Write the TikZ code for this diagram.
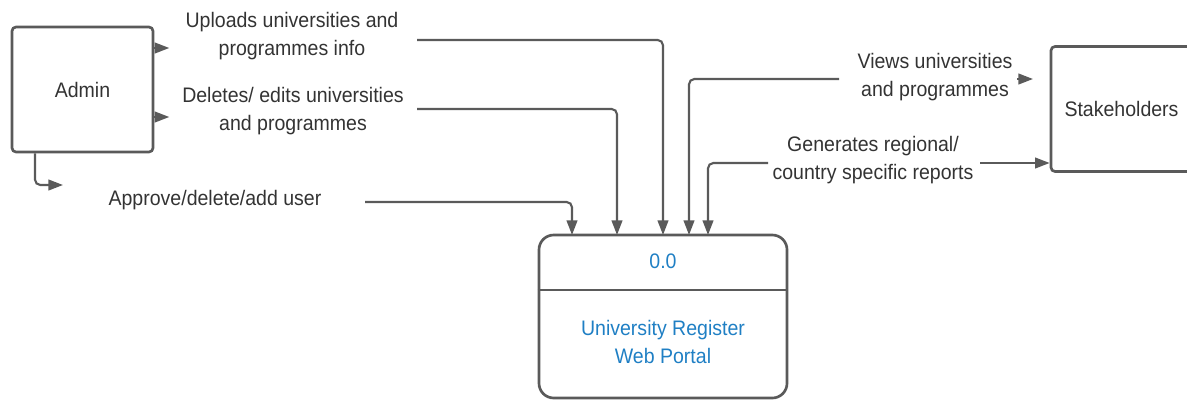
\documentclass[tikz,border=0pt]{standalone}
\usepackage{fontspec}
\setmainfont[FakeStretch=0.93]{Liberation Sans}
\usetikzlibrary{arrows.meta}
\definecolor{linegray}{HTML}{5A5A5A}
\definecolor{textgray}{HTML}{333333}
\definecolor{portalblue}{HTML}{1F7FC4}
\tikzset{
  entity/.style={draw=linegray, line width=2pt, rounded corners=3pt,
    minimum width=141*0.75pt, minimum height=125*0.75pt, inner sep=0pt,
    text=textgray},
  procbox/.style={draw=linegray, line width=2pt, rounded corners=11pt,
    minimum width=248*0.75pt, minimum height=163*0.75pt, inner sep=0pt},
  flowlabel/.style={align=center, inner sep=0pt, text=textgray},
  portaltext/.style={align=center, inner sep=0pt, text=portalblue},
  flow/.style={draw=linegray, line width=1.6pt, rounded corners=4pt,
    -{Triangle[length=11pt,width=8pt]}},
}
\begin{document}
\begin{tikzpicture}[x=0.75pt, y=-0.75pt,
  every node/.append style={font=\fontsize{15.75pt}{21pt}\selectfont}]
\useasboundingbox (0,0) rectangle (1187,400);

% external entities
\node[entity] (admin) at (82.5,89.5) {Admin};
\node[entity] (stake) at (1121.5,109) {Stakeholders};

% process
\node[procbox] (proc) at (663,316.5) {};
\draw[linegray, line width=2pt] (proc.west |- 0,290) -- (proc.east |- 0,290);
\node[portaltext] (pnum) at (663,261) {0.0};
\node[portaltext] (pname) at (663,342) {University Register\\Web Portal};

% flow labels
\node[flowlabel] (upl) at (292,36.5) {Uploads universities and\\programmes info};
\node[flowlabel] (del) at (293,111.5) {Deletes/ edits universities\\and programmes};
\node[flowlabel] (app) at (215,200) {Approve/delete/add user};
\node[flowlabel] (views) at (935,77) {Views universities\\and programmes};
\node[flowlabel] (gen) at (873,160) {Generates regional/\\country specific reports};

% entry points on the process
\coordinate (in1) at (572,235);
\coordinate (in2) at (617,235);
\coordinate (in3) at (663,235);
\coordinate (in4) at (689,235);
\coordinate (in5) at (708,235);

% line starts beside the labels
\coordinate (s1) at (417,40);
\coordinate (s2) at (417,109);
\coordinate (s3) at (365,202);
\coordinate (s4) at (839,79);
\coordinate (s5) at (768,163);
\coordinate (s6) at (980,163);
\coordinate (s7) at (1017,79);
\coordinate (t7) at (1033,79);
\coordinate (a3) at (63,185);

% stubs leaving Admin
\draw[flow] (admin.east |- 0,48) -- ++(15,0);
\draw[flow] (admin.east |- 0,117) -- ++(15,0);
\draw[flow] (admin.south -| 35,0) |- (a3);

% flows into the process
\draw[flow] (s1) -| (in3);
\draw[flow] (s2) -| (in2);
\draw[flow] (s3) -| (in1);
\draw[flow] (s4) -| (in4);
\draw[flow] (s5) -| (in5);

% flows to Stakeholders
\draw[flow] (s7) -- (t7);
\draw[flow] (s6) -- (stake.west |- s6);
\end{tikzpicture}
\end{document}
